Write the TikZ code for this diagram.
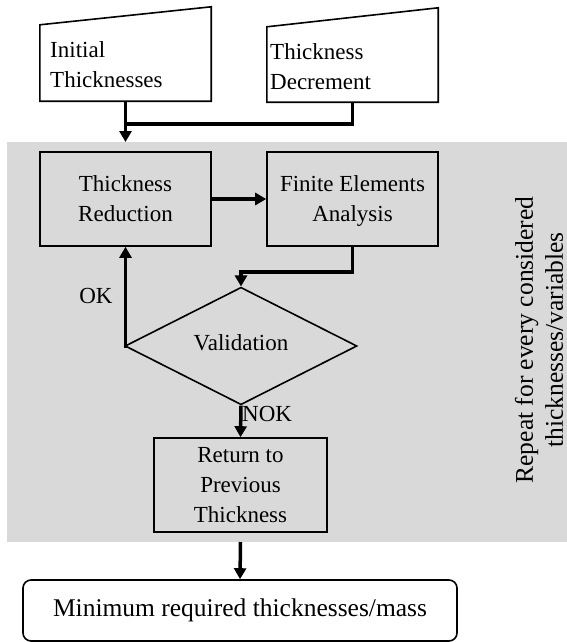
\documentclass[tikz,border=0pt]{standalone}
\usepackage{fontspec}
\setmainfont{Liberation Serif}
\usetikzlibrary{arrows.meta,shapes.geometric,calc}
\definecolor{loopgray}{RGB}{217,217,217}
\begin{document}
\begin{tikzpicture}[x=1pt,y=-1pt,
  txt/.style={font=\fontsize{23}{30}\selectfont},
  bigtxt/.style={font=\fontsize{25.5}{31}\selectfont},
  box/.style={draw, line width=1.6pt, align=center, inner sep=0pt, txt},
  inbox/.style={inner sep=0pt, minimum width=171pt, minimum height=94pt},
  inshape/.style={draw, line width=1.6pt, fill=white},
  conn/.style={line width=3.5pt},
  arr/.style={conn, -{Triangle[width=12pt,length=11pt]}},
]
\useasboundingbox (0,0) rectangle (567,642);
\fill[loopgray] (7,142) rectangle (567,542);

% manual inputs
\node[inbox] (in1) at (125.5,54) {};
\draw[inshape] (in1.south west) -- (in1.south east) -- (in1.north east) -- ($(in1.north west)+(0,18)$) -- cycle;
\node[txt, align=left, anchor=west, inner sep=0pt] (in1t) at (50,65) {Initial\\Thicknesses};

\node[inbox] (in2) at (352.5,55) {};
\draw[inshape] (in2.south west) -- (in2.south east) -- (in2.north east) -- ($(in2.north west)+(0,19)$) -- cycle;
\node[txt, align=left, anchor=west, inner sep=0pt] (in2t) at (270,67) {Thickness\\Decrement};

% process boxes
\node[box, minimum width=171pt, minimum height=94pt] (tr) at (125.5,199) {Thickness\\Reduction};
\node[box, minimum width=171pt, minimum height=94pt, text depth=0pt] (fea) at (352.5,199) {Finite Elements\\Analysis};
\node[box, diamond, minimum width=232pt, minimum height=102pt, text depth=7pt] (val) at (241,346) {Validation};
\node[box, minimum width=173pt, minimum height=94pt] (ret) at (240.5,485) {Return to\\Previous\\Thickness};
\node[box, bigtxt, fill=white, rounded corners=8pt, minimum width=434pt, minimum height=61pt] (fin) at (240,610.5) {Minimum required thicknesses/mass};

% labels
\node[txt, inner sep=0pt] (ok) at (96,296) {OK};
\node[txt, inner sep=0pt, anchor=west] (nok) at (242,414) {NOK};
\node[font=\fontsize{25.5}{30}\selectfont, align=center, rotate=90, inner sep=0pt] (rep) at (539,340) {Repeat for every considered\\thicknesses/variables};

% connectors
\coordinate (gtop) at (in1.south |- 0,142);
\coordinate (gbot) at (ret.south |- 0,542);
\draw[conn] (in2.south) |- (in1.south |- 0,124);
\draw[arr] (in1.south) -- (gtop);
\draw[arr] (tr.east) -- (fea.west);
\draw[arr] (fea.south) -- ++(0,25) -| (val.north);
\draw[arr] (val.west) -| (tr.south);
\draw[arr] (val.south) -- (ret.north);
\draw[arr] (gbot) -- (fin.north);
\end{tikzpicture}
\end{document}
